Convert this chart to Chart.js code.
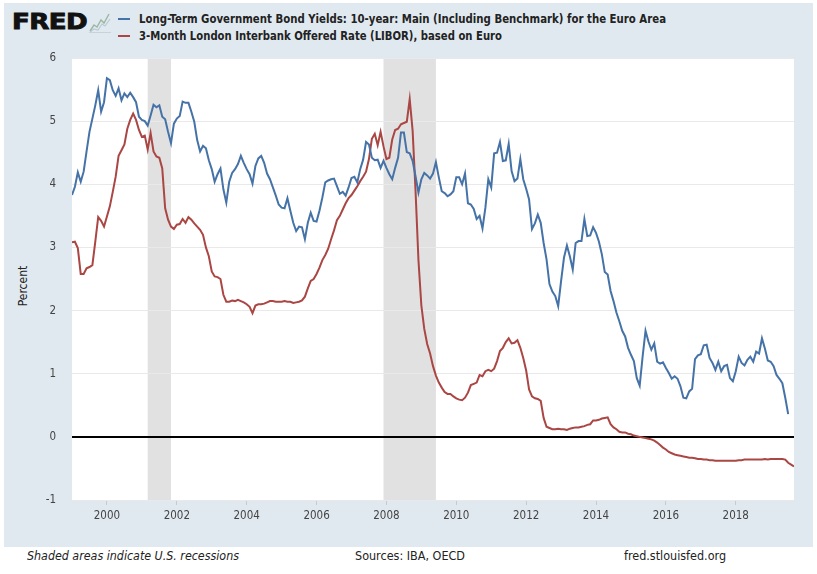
<!DOCTYPE html>
<html><head><meta charset="utf-8">
<script src="https://cdn.jsdelivr.net/npm/chart.js@4.4.1/dist/chart.umd.min.js"></script>
<style>
html,body{margin:0;padding:0;background:#fff;width:817px;height:574px;overflow:hidden;position:relative;}
#panel{position:absolute;left:4px;top:3px;width:809px;height:544px;background:#e1e9f0;}
#c{position:absolute;left:0;top:0;}
.t{position:absolute;white-space:nowrap;transform-origin:0 50%;font-family:'DejaVu Sans Condensed','DejaVu Sans',sans-serif;color:#222;line-height:14px;height:14px;}
.lg{font-weight:bold;font-size:12px;}
.sw{position:absolute;width:12px;height:2px;}
</style></head><body>
<div id="panel"></div>
<div class="t" id="logo" style="left:12px;top:9px;height:26px;line-height:26px;font-size:22px;font-weight:bold;color:#111;font-family:'DejaVu Sans',sans-serif;-webkit-text-stroke:0.9px #111;letter-spacing:-0.5px;">FRED</div>
<svg style="position:absolute;left:89px;top:11px" width="22" height="22" viewBox="0 0 22 22">
  <polyline points="1,20 5,14 8,16 12,9 15,12 20,3" fill="none" stroke="#9cb7a0" stroke-width="1.4"/>
  <polyline points="1,21 5,18 9,19 13,13 16,15 21,8" fill="none" stroke="#b9c9d6" stroke-width="1.2"/>
  <line x1="0" y1="21.5" x2="22" y2="21.5" stroke="#c8d2da" stroke-width="1"/>
</svg>
<div class="sw" style="left:118px;top:18px;background:#4572a7"></div>
<div class="sw" style="left:118px;top:35px;background:#aa4643"></div>
<div class="t lg" id="lg1" style="left:139px;top:12px;">Long-Term Government Bond Yields: 10-year: Main (Including Benchmark) for the Euro Area</div>
<div class="t lg" id="lg2" style="left:139px;top:29px;">3-Month London Interbank Offered Rate (LIBOR), based on Euro</div>
<div class="t" id="ytitle" style="left:-2px;top:279px;font-size:12px;color:#222;transform-origin:50% 50%;width:50px;text-align:center;transform:rotate(-90deg);">Percent</div>
<div class="t" id="f1" style="left:27px;top:549px;font-size:12px;font-style:italic;">Shaded areas indicate U.S. recessions</div>
<div class="t" id="f2" style="left:355px;top:549px;font-size:12px;">Sources: IBA, OECD</div>
<div class="t" id="f3" style="left:624px;top:549px;font-size:12px;">fred.stlouisfed.org</div>
<canvas id="c" width="817" height="574"></canvas>
<script>
// ---- data (monthly, starting January 1999) ----
const START_YEAR = 1999;
const bondYield = [
3.83,3.96,4.19,4.04,4.20,4.52,4.83,5.04,5.25,5.49,5.15,5.30,
5.68,5.65,5.49,5.40,5.52,5.33,5.44,5.38,5.45,5.38,5.30,5.07,
5.02,5.00,4.93,5.09,5.26,5.22,5.25,5.07,5.03,4.83,4.65,4.96,
5.04,5.08,5.31,5.29,5.29,5.15,4.99,4.70,4.52,4.61,4.57,4.38,
4.24,4.04,4.16,4.25,3.92,3.71,4.04,4.18,4.24,4.32,4.45,4.34,
4.24,4.16,4.01,4.29,4.41,4.45,4.34,4.17,4.08,3.95,3.82,3.68,
3.63,3.62,3.78,3.58,3.39,3.26,3.33,3.32,3.13,3.39,3.55,3.42,
3.41,3.58,3.79,4.03,4.06,4.08,4.09,3.97,3.85,3.88,3.82,3.95,
4.10,4.12,4.03,4.24,4.39,4.67,4.63,4.42,4.38,4.39,4.26,4.37,
4.26,4.16,4.08,4.26,4.42,4.82,4.82,4.51,4.49,4.37,4.13,3.87,
4.08,4.18,4.14,4.09,4.17,4.35,4.11,3.89,3.86,3.81,3.84,3.89,
4.11,4.11,4.00,4.17,3.70,3.68,3.61,3.45,3.50,3.30,3.63,4.08,
3.95,4.49,4.50,4.67,4.37,4.38,4.64,4.21,4.05,4.09,4.40,4.08,
3.93,3.76,3.29,3.38,3.52,3.39,3.07,2.81,2.42,2.30,2.23,2.07,
2.47,2.84,3.03,2.86,2.65,3.07,3.10,3.10,3.45,3.18,3.19,3.32,
3.23,3.09,2.89,2.61,2.57,2.31,2.15,1.97,1.83,1.68,1.59,1.41,
1.30,1.20,0.93,0.81,1.27,1.68,1.51,1.38,1.48,1.19,1.16,1.18,
1.09,1.01,0.92,0.96,0.92,0.80,0.62,0.61,0.72,0.76,1.23,1.29,
1.31,1.45,1.46,1.25,1.17,1.06,1.19,1.04,1.12,1.14,0.93,0.88,
1.04,1.27,1.17,1.13,1.22,1.27,1.19,1.35,1.32,1.56,1.40,1.21,
1.19,1.12,0.98,0.92,0.85,0.62,0.36
];
const libor3m = [
3.08,3.09,2.99,2.58,2.58,2.67,2.69,2.72,3.09,3.48,3.42,3.33,
3.49,3.65,3.88,4.12,4.45,4.54,4.63,4.88,5.02,5.12,5.02,4.86,
4.75,4.77,4.55,4.81,4.52,4.44,4.42,4.25,3.62,3.44,3.33,3.29,
3.36,3.37,3.45,3.39,3.48,3.44,3.38,3.33,3.28,3.20,3.00,2.86,
2.62,2.54,2.53,2.50,2.25,2.14,2.14,2.16,2.15,2.17,2.15,2.13,
2.10,2.06,1.96,2.08,2.10,2.10,2.11,2.13,2.15,2.15,2.14,2.14,
2.14,2.15,2.14,2.14,2.12,2.13,2.14,2.16,2.22,2.35,2.47,2.50,
2.58,2.68,2.80,2.88,2.98,3.13,3.27,3.43,3.50,3.60,3.70,3.78,
3.83,3.90,3.97,4.05,4.12,4.20,4.40,4.72,4.80,4.62,4.83,4.60,
4.40,4.42,4.71,4.86,4.88,4.95,4.97,4.99,5.35,4.85,3.90,2.80,
2.08,1.71,1.47,1.32,1.12,0.97,0.86,0.78,0.71,0.68,0.68,0.64,
0.61,0.59,0.58,0.62,0.70,0.82,0.84,0.86,0.98,0.96,1.04,1.06,
1.04,1.08,1.20,1.36,1.41,1.50,1.56,1.48,1.49,1.53,1.41,1.25,
1.05,0.75,0.64,0.61,0.60,0.57,0.30,0.16,0.14,0.12,0.12,0.13,
0.12,0.12,0.11,0.13,0.14,0.15,0.15,0.16,0.17,0.19,0.20,0.26,
0.26,0.27,0.29,0.30,0.31,0.20,0.15,0.12,0.08,0.07,0.07,0.05,
0.04,0.02,0.01,0.00,-0.01,-0.02,-0.03,-0.04,-0.06,-0.09,-0.13,-0.17,
-0.20,-0.24,-0.26,-0.28,-0.29,-0.30,-0.31,-0.32,-0.33,-0.33,-0.34,-0.35,
-0.35,-0.36,-0.36,-0.37,-0.37,-0.38,-0.38,-0.38,-0.38,-0.38,-0.38,-0.38,
-0.38,-0.37,-0.37,-0.36,-0.36,-0.36,-0.36,-0.36,-0.36,-0.36,-0.35,-0.36,
-0.35,-0.35,-0.35,-0.35,-0.35,-0.36,-0.41,-0.44,-0.47
];
const xTickYears = [2000,2002,2004,2006,2008,2010,2012,2014,2016,2018];
const yTickValues = [-1,0,1,2,3,4,5,6];
const recessions = [['2001-03','2001-11'],['2007-12','2009-06']];
const X_RANGE = ['1999-01','2019-09'];

// ---- helpers ----
const ym = s => { const p = s.split('-').map(Number); return p[0] + (p[1]-1)/12; };
const toPoints = arr => arr.map((v,i) => ({x: START_YEAR + i/12, y: v}));

// fit header/footer texts to the reference widths
function fit(id, w){ const el=document.getElementById(id); const r=el.getBoundingClientRect().width; el.style.transform='scaleX('+(w/r).toFixed(4)+')'; }
fit('logo', 75); fit('lg1', 527); fit('lg2', 363);
fit('f1', 212); fit('f2', 110); fit('f3', 102);

const bgPlugin = {
  id: 'bg',
  beforeDraw(chart){
    const {ctx, chartArea:a, scales:{x}} = chart;
    ctx.save();
    ctx.fillStyle = '#ffffff';
    ctx.fillRect(a.left, a.top, a.right-a.left, a.bottom-a.top);
    ctx.fillStyle = '#e1e1e1';
    recessions.forEach(([s,e]) => {
      const x0 = x.getPixelForValue(ym(s)), x1 = x.getPixelForValue(ym(e));
      ctx.fillRect(x0, a.top, x1-x0, a.bottom-a.top);
    });
    ctx.restore();
  }
};

const FONT = "'DejaVu Sans Condensed','DejaVu Sans',sans-serif";
new Chart(document.getElementById('c'), {
  type: 'line',
  data: { datasets: [
    { label: 'Long-Term Government Bond Yields: 10-year: Main (Including Benchmark) for the Euro Area',
      data: toPoints(bondYield), borderColor:'#4572a7', borderWidth:2, pointRadius:0, tension:0 },
    { label: '3-Month London Interbank Offered Rate (LIBOR), based on Euro',
      data: toPoints(libor3m), borderColor:'#aa4643', borderWidth:2, pointRadius:0, tension:0 }
  ]},
  options: {
    responsive:false, animation:false, events:[],
    layout:{ padding:{ top:58, right:23, left:0, bottom:0 } },
    plugins:{ legend:{display:false}, tooltip:{enabled:false} },
    scales:{
      x:{ type:'linear', min: ym(X_RANGE[0]), max: ym(X_RANGE[1]),
          afterBuildTicks: s => { s.ticks = xTickYears.map(v => ({value:v})); },
          afterFit: s => { s.height = 74; },
          border:{display:false},
          grid:{ drawOnChartArea:false, drawTicks:true, tickLength:5, color:'#c9c9c9' },
          ticks:{ padding:4, maxRotation:0, autoSkip:false, color:'#444', font:{family:FONT, size:11.5},
                  callback: v => String(v) } },
      y:{ min:-1, max:6,
          afterBuildTicks: s => { s.ticks = yTickValues.map(v => ({value:v})); },
          afterFit: s => { s.width = 72; },
          border:{display:false},
          grid:{ drawTicks:false,
                 color: c => c.tick && c.tick.value === 0 ? '#000000' : '#e9e9e9',
                 lineWidth: c => c.tick && c.tick.value === 0 ? 2 : 1 },
          ticks:{ padding:16, color:'#444', font:{family:FONT, size:11.5}, callback: v => String(v) } }
    }
  },
  plugins:[bgPlugin]
});
</script>
</body></html>
